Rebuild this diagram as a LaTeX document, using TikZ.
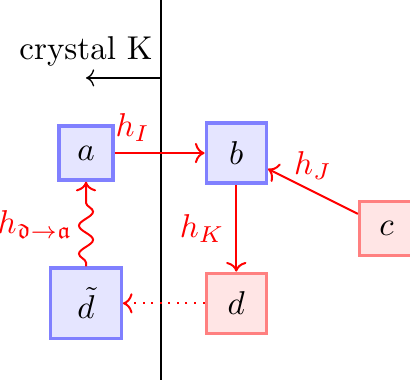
\documentclass[tikz,border=0pt]{standalone}
\usepackage{amsmath,amssymb}
\usetikzlibrary{arrows.meta,positioning,decorations.pathmorphing}
\tikzset{
  % rutor
  kb/.style={draw=blue!50,fill=blue!10,line width=1pt,inner sep=0pt,minimum size=#1},
  kb/.default=5.75mm,
  kr/.style={draw=red!50,fill=red!10,line width=1pt,inner sep=0pt,minimum size=#1},
  kr/.default=5.75mm,
  % pilar
  hop/.style={->,draw=red,semithick,nodes={text=red}},
  hopd/.style={hop,dotted},
  wig/.style={hop,decorate,decoration={snake,amplitude=0.75mm,segment length=3mm,
              pre length=0.4mm,post length=1.6mm}},
  wall/.style={draw=black,thin},
}
\begin{document}
\begin{tikzpicture}
\useasboundingbox (-0.916,-2.42) rectangle (3.45,1.63);
  \coordinate (wt) at (0.8,1.63);
  \coordinate (wb) at (0.8,-2.42);
  \coordinate (kin) at (0.8,0.8);
  \coordinate (kout) at (0,0.8);
  \draw[wall] (wt) -- (wb);
  \draw[wall,->] (kin) -- (kout) node[above,text=black] {crystal K};
  \node[kb] (a) at (0,0) {$a$};
  \node[kb=6.4mm] (b) at (1.6,0) {$b$};
  \node[kr] (c) at (3.2,-0.8) {$c$};
  \node[kr=6.4mm] (d) at (1.6,-1.6) {$d$};
  \node[kb=7.5mm] (dt) at (0,-1.6) {$\tilde{d}$};
  \draw[hop] (a) -- node[above,pos=0.2] {$h_I$} (b);
  \draw[hop] (c) -- node[above] {$h_J$} (b);
  \draw[hop] (b) -- node[left] {$h_K$} (d);
  \draw[hopd] (d) -- (dt);
  \draw[wig] (dt) -- node[left,xshift=-0.5pt] {$h_{\mathfrak{d}\to\mathfrak{a}}$} (a);
\end{tikzpicture}
\end{document}
